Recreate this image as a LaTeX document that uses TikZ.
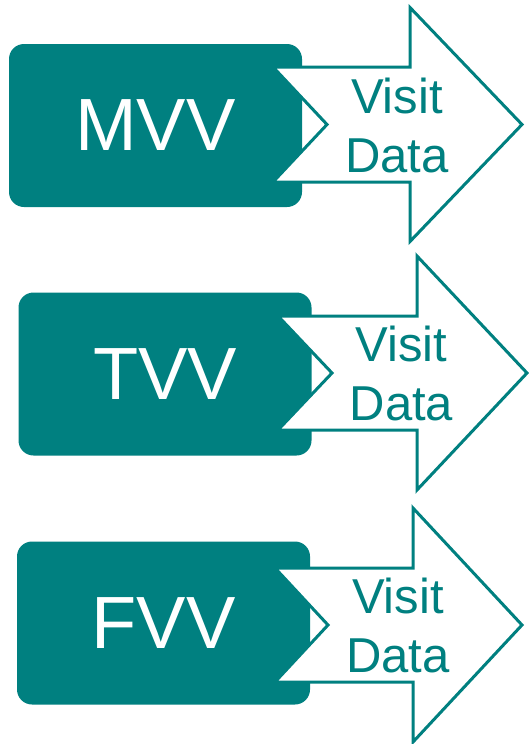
\documentclass[tikz,border=0pt]{standalone}
\usepackage{fontspec}
\setmainfont{Liberation Sans}
\usepackage{tikz}
\usepackage{xcolor}
\newlength{\boxwidth}
\newlength{\boxheight}
\newlength{\boxradius}
\setlength{\boxwidth}{293pt}
\setlength{\boxheight}{163pt}
\setlength{\boxradius}{15pt}
\definecolor{background}{RGB}{255, 255, 255}
\definecolor{mainfill}{HTML}{008080}
\definecolor{arrowfill}{RGB}{255, 255, 255}
\tikzset{
  visitbox/.style={fill=mainfill, rounded corners=\boxradius, minimum width=\boxwidth,
    minimum height=\boxheight, inner sep=0pt, text=white, font=\fontsize{74}{80}\selectfont},
  visitarrow/.style={fill=arrowfill, draw=mainfill, line width=3pt, miter limit=10},
  visitlabel/.style={text=mainfill, align=center, inner sep=0pt, font=\fontsize{49}{59}\selectfont}
}

\begin{document}
\begin{tikzpicture}[x=1pt, y=-1pt]
				% Boundary box
				\fill[background] (0,0) rectangle (528,744);
				\useasboundingbox (0,0) rectangle (528,744);

				% First row
				% Box
				\node[visitbox] (mvv) at (155.5,125.5) {MVV};
				% Arrow (tail notch over the box)
				\draw[visitarrow] (273,67) -- (410,67) -- (410,7.5) -- (522,124.5) -- (410,241.5)
					-- (410,182) -- (273,182) -- (327,124.5) -- cycle;
				\node[visitlabel] (mvvdata) at (397,125) {Visit\\Data};

				% Second row
				\node[visitbox] (tvv) at (165,374) {TVV};
				\draw[visitarrow] (278,316) -- (417,316) -- (417,256) -- (527,373) -- (417,490)
					-- (417,430) -- (278,430) -- (332,373) -- cycle;
				\node[visitlabel] (tvvdata) at (401.5,373) {Visit\\Data};

				% Third row
				\node[visitbox] (fvv) at (163.5,623) {FVV};
				\draw[visitarrow] (275,568) -- (413,568) -- (413,508) -- (522,625) -- (413,742)
					-- (413,682) -- (275,682) -- (328,625) -- cycle;
				\node[visitlabel] (fvvdata) at (398,625) {Visit\\Data};
			\end{tikzpicture}
\end{document}
